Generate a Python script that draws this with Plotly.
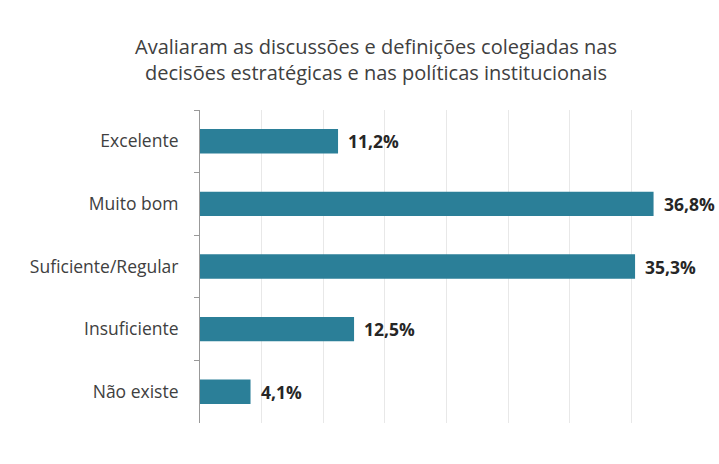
import plotly.graph_objects as go

categories = ["Excelente", "Muito bom", "Suficiente/Regular", "Insuficiente", "Não existe"]
values = [11.2, 36.8, 35.3, 12.5, 4.1]
title_lines = [
    "Avaliaram as discussões e definições colegiadas nas",
    "decisões estratégicas e nas políticas institucionais",
]

FONT = "Open Sans"
BAR = "#2b7f98"

# plot area in pixels: x 200..693, y 110..423
PL, PR, PT, PB = 200, 693, 110, 423
W, H = 719, 464

fig = go.Figure()
fig.add_trace(go.Bar(
    x=values,
    y=categories,
    orientation="h",
    marker=dict(color=BAR, line=dict(width=0)),
    width=0.39,
    hoverinfo="skip",
))

for v, c in zip(values, categories):
    fig.add_annotation(
        x=v, y=c, xref="x", yref="y",
        text="<b>" + f"{v:.1f}".replace(".", ",") + "%</b>",
        showarrow=False, xanchor="left", yanchor="middle", xshift=8,
        font=dict(family=FONT, size=17.5, color="#262626"),
    )

for i, line in enumerate(title_lines):
    fig.add_annotation(
        x=(376 - PL) / (PR - PL), y=(PB - (47 + 26 * i)) / (PB - PT),
        xref="paper", yref="paper",
        text=line, showarrow=False, xanchor="center", yanchor="middle",
        font=dict(family=FONT, size=20, color="#404040"),
    )

fig.update_layout(
    width=W, height=H,
    margin=dict(l=PL, r=W - PR, t=PT, b=H - PB, pad=0),
    paper_bgcolor="white", plot_bgcolor="white",
    showlegend=False,
    font=dict(family=FONT, color="#404040"),
    xaxis=dict(
        range=[0, 40], dtick=5, showticklabels=False,
        showgrid=True, gridcolor="#e8e8e8", gridwidth=1,
        zeroline=False, showline=False, fixedrange=True,
    ),
    yaxis=dict(
        autorange="reversed", showline=True, linecolor="#999999", linewidth=1,
        ticks="outside", ticklen=5, tickcolor="#999999", tickson="boundaries",
        ticklabelstandoff=17, showgrid=False,
        tickfont=dict(family=FONT, size=17.5, color="#404040"),
        fixedrange=True,
    ),
)
fig.write_html("out.html")
